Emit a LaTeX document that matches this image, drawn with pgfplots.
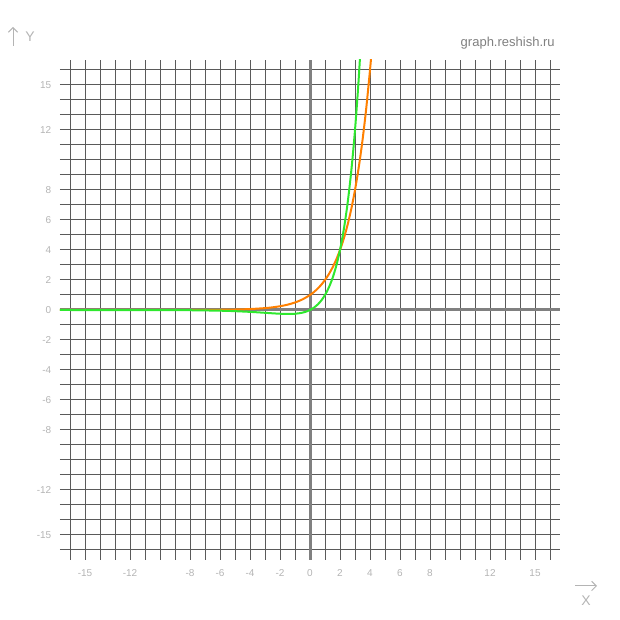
\documentclass[border=0pt]{standalone}
\usepackage{pgfplots}
\pgfplotsset{compat=1.18}
\usetikzlibrary{arrows.meta}
\usepackage{fontspec}
\setmainfont{Liberation Sans}
\definecolor{gridc}{HTML}{5A5A5A}
\definecolor{axc}{HTML}{808080}
\definecolor{lblc}{HTML}{B4B4B4}
\definecolor{orangec}{HTML}{FF8000}
\definecolor{greenc}{HTML}{2EE82E}
\begin{document}
\begin{tikzpicture}
\begin{axis}[
  width=375pt, height=375pt, scale only axis,
  xmin=-16.667, xmax=16.667, ymin=-16.667, ymax=16.667,
  axis line style={draw=none},
  major tick length=0pt,
  xtick={-16,...,16}, ytick={-16,...,16},
  xticklabels={{},-15,{},{},-12,{},{},{},-8,{},-6,{},-4,{},-2,{},0,{},2,{},4,{},6,{},8,{},{},{},12,{},{},15,{}},
  yticklabels={{},-15,{},{},-12,{},{},{},-8,{},-6,{},-4,{},-2,{},0,{},2,{},4,{},6,{},8,{},{},{},12,{},{},15,{}},
  grid=major,
  major grid style={gridc, line width=0.75pt},
  ticklabel style={font=\fontsize{7.5}{9}\selectfont, text=lblc},
  xticklabel style={anchor=center, yshift=-9.75pt},
  yticklabel style={anchor=east, xshift=-3pt},
  clip=true,
]
\draw[axc, line width=2.25pt] (axis cs:-16.667,0) -- (axis cs:16.667,0);
\draw[axc, line width=2.25pt] (axis cs:0,-16.667) -- (axis cs:0,16.667);
% y = 2^x
\addplot[orangec, line width=1.5pt, smooth] coordinates {
(-16.667,0.00001) (-10,0.001) (-8,0.0039) (-6,0.0156) (-5,0.03125) (-4,0.0625)
(-3,0.125) (-2.5,0.1768) (-2,0.25) (-1.5,0.3536) (-1,0.5) (-0.5,0.7071)
(0,1) (0.25,1.1892) (0.5,1.4142) (0.75,1.6818) (1,2) (1.25,2.3784)
(1.5,2.8284) (1.75,3.3636) (2,4) (2.25,4.7568) (2.5,5.6569) (2.75,6.7272)
(3,8) (3.25,9.5137) (3.5,11.3137) (3.75,13.4543) (4,16) (4.1,17.148)
};
% green curve
\addplot[greenc, line width=1.5pt, smooth] coordinates {
(-16.667,-0.0001) (-10,-0.0049) (-8,-0.0156) (-6,-0.0469) (-5,-0.0781)
(-4,-0.125) (-3.5,-0.1547) (-3,-0.1875) (-2.5,-0.221) (-2,-0.25)
(-1.75,-0.2601) (-1.5,-0.2652) (-1.25,-0.2628) (-1,-0.25) (-0.75,-0.223)
(-0.5,-0.1768) (-0.25,-0.1051) (0,0) (0.25,0.1487) (0.5,0.3536)
(0.75,0.6307) (1,1) (1.25,1.4865) (1.5,2.1213) (1.75,2.9431) (2,4)
(2.25,5.3514) (2.5,7.0711) (2.75,9.2499) (3,12) (3.25,15.4597) (3.5,19.799)
};
\coordinate (bl) at (axis cs:-20.667,-20.667);
\coordinate (tr) at (axis cs:20.667,20.667);
\coordinate (site) at (axis cs:16.33,17.8);
\coordinate (yarr0) at (axis cs:-19.8,17.6);
\coordinate (yarr1) at (axis cs:-19.8,18.87);
\coordinate (ylab) at (axis cs:-18.67,18.2);
\coordinate (xarr0) at (axis cs:17.667,-18.4);
\coordinate (xarr1) at (axis cs:19.133,-18.4);
\coordinate (xlab) at (axis cs:18.4,-19.4);
\end{axis}
\path (bl) rectangle (tr);
\node[anchor=east, inner sep=0pt, text=axc, font=\fontsize{9.75}{11}\selectfont] at (site) {graph.reshish.ru};
\draw[lblc, line width=0.75pt, -{Straight Barb[length=3.5pt, width=7pt]}] (yarr0) -- (yarr1);
\draw[lblc, line width=0.75pt, -{Straight Barb[length=3.5pt, width=7pt]}] (xarr0) -- (xarr1);
\node[inner sep=0pt, text=lblc, font=\fontsize{10.5}{12}\selectfont] at (ylab) {Y};
\node[inner sep=0pt, text=lblc, font=\fontsize{10.5}{12}\selectfont] at (xlab) {X};
\end{tikzpicture}
\end{document}
